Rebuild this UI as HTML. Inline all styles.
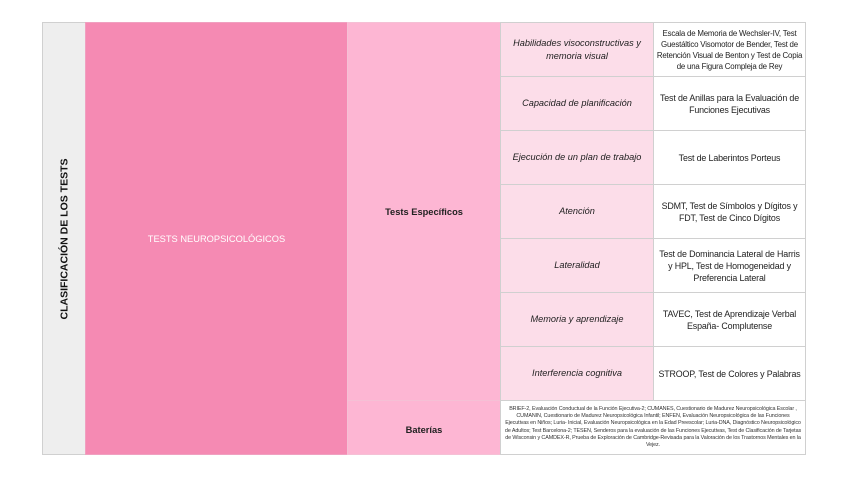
<!DOCTYPE html>
<html><head><meta charset="utf-8"><style>
body{margin:0;width:848px;height:477px;background:#fff;position:relative;font-family:"Liberation Sans",sans-serif;overflow:hidden}
.c{position:absolute;box-sizing:border-box;display:flex;align-items:center;justify-content:center;text-align:center;border:1px solid #d0d0d0;color:#222}
.a{background:#fcdde9;font-style:italic;font-size:9.2px;line-height:13px;padding:0 5px}
.b{background:#fff;font-size:8.9px;line-height:12px;padding:0 2px;letter-spacing:-0.15px}
</style></head><body>
<div class="c" style="left:42px;top:22px;width:44px;height:433px;background:#eeeeee">
<div style="transform:rotate(-90deg);white-space:nowrap;font-weight:bold;font-size:10.5px;color:#111">CLASIFICACIÓN DE LOS TESTS</div></div>
<div class="c" style="left:85px;top:22px;width:263px;height:433px;background:#f58ab3;color:#fff;font-size:9.3px;border-color:#f0a0c0">TESTS NEUROPSICOLÓGICOS</div>
<div class="c" style="left:347px;top:22px;width:154px;height:379px;background:#fdb6d3;font-weight:bold;font-size:9.3px;border-color:#f5c0d5">Tests Específicos</div>
<div class="c" style="left:347px;top:400px;width:154px;height:55px;background:#fdb6d3;font-weight:bold;font-size:9.3px;border-color:#f5c0d5;padding-top:4px">Baterías</div>

<div class="c a" style="left:500px;top:22px;width:154px;height:55px">Habilidades visoconstructivas y memoria visual</div>
<div class="c b" style="left:653px;top:22px;width:153px;height:55px;font-size:7.9px;line-height:11px;letter-spacing:-0.2px">Escala de Memoria de Wechsler-IV, Test Guestáltico Visomotor de Bender, Test de Retención Visual de Benton y Test de Copia de una Figura Compleja de Rey</div>

<div class="c a" style="left:500px;top:76px;width:154px;height:55px">Capacidad de planificación</div>
<div class="c b" style="left:653px;top:76px;width:153px;height:55px">Test de Anillas para la Evaluación de Funciones Ejecutivas</div>

<div class="c a" style="left:500px;top:130px;width:154px;height:55px">Ejecución de un plan de trabajo</div>
<div class="c b" style="left:653px;top:130px;width:153px;height:55px">Test de Laberintos Porteus</div>

<div class="c a" style="left:500px;top:184px;width:154px;height:55px">Atención</div>
<div class="c b" style="left:653px;top:184px;width:153px;height:55px">SDMT, Test de Símbolos y Dígitos y FDT, Test de Cinco Dígitos</div>

<div class="c a" style="left:500px;top:238px;width:154px;height:55px">Lateralidad</div>
<div class="c b" style="left:653px;top:238px;width:153px;height:55px">Test de Dominancia Lateral de Harris y HPL, Test de Homogeneidad y Preferencia Lateral</div>

<div class="c a" style="left:500px;top:292px;width:154px;height:55px">Memoria y aprendizaje</div>
<div class="c b" style="left:653px;top:292px;width:153px;height:55px">TAVEC, Test de Aprendizaje Verbal España- Complutense</div>

<div class="c a" style="left:500px;top:346px;width:154px;height:55px">Interferencia cognitiva</div>
<div class="c b" style="left:653px;top:346px;width:153px;height:55px">STROOP, Test de Colores y Palabras</div>

<div class="c" style="left:500px;top:400px;width:306px;height:55px;background:#fff;font-size:5.4px;line-height:7.2px;padding:0 3px;color:#333;letter-spacing:-0.1px">BRIEF-2, Evaluación Conductual de la Función Ejecutiva-2; CUMANES, Cuestionario de Madurez Neuropsicológica Escolar , CUMANIN, Cuestionario de Madurez Neuropsicológica Infantil; ENFEN, Evaluación Neuropsicológica de las Funciones Ejecutivas en Niños; Luria- Inicial, Evaluación Neuropsicológica en la Edad Preescolar; Luria-DNA, Diagnóstico Neuropsicológico de Adultos; Test Barcelona-2; TESEN, Senderos para la evaluación de las Funciones Ejecutivas, Test de Clasificación de Tarjetas de Wisconsin y CAMDEX-R, Prueba de Exploración de Cambridge-Revisada para la Valoración de los Trastornos Mentales en la Vejez.</div>
</body></html>
